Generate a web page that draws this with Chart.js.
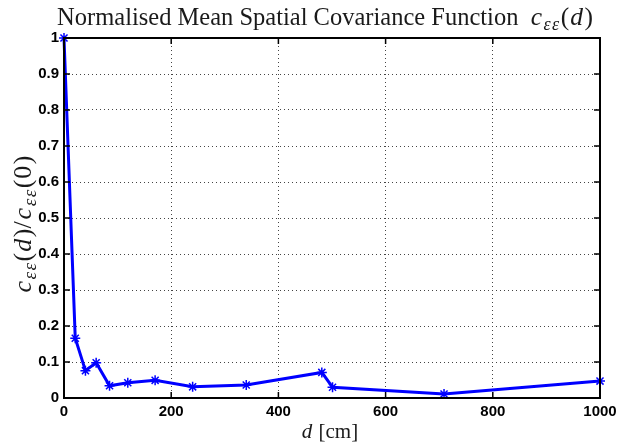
<!DOCTYPE html>
<html>
<head>
<meta charset="utf-8">
<script src="https://cdn.jsdelivr.net/npm/chart.js@4/dist/chart.umd.min.js"></script>
<style>
  html, body { margin: 0; padding: 0; background: #fff; }
  #wrap { width: 620px; height: 443px; position: relative; }
</style>
</head>
<body>
<div id="wrap"><canvas id="covChart"></canvas></div>
<script>
/* ── data ───────────────────────────────────────── */
var distances  = [0, 21, 40, 60, 85, 119, 170, 240, 340, 481, 501, 709, 1000];
var covariance = [1, 0.166, 0.076, 0.098, 0.034, 0.0425, 0.049, 0.031, 0.036, 0.071, 0.030, 0.011, 0.047];
var xTicks = [0, 200, 400, 600, 800, 1000];
var yTicks = [0, 0.1, 0.2, 0.3, 0.4, 0.5, 0.6, 0.7, 0.8, 0.9, 1];

var SERIF = "'Liberation Serif', 'DejaVu Serif', serif";
var TICK_FONT = { family: "'Liberation Sans', Arial, sans-serif", size: 15, weight: 'bold' };

// draw text pieces char by char (italic / subscript / extra gap) centred at x
function drawRich(ctx, segs, x, y) {
  var total = 0;
  segs.forEach(function (s) {
    ctx.font = s.font;
    s.w = 0;
    for (var i = 0; i < s.t.length; i++) s.w += ctx.measureText(s.t[i]).width + (s.gap || 0);
    if (s.whole) s.w = ctx.measureText(s.t).width;
    total += s.w;
  });
  var cx = x - total / 2;
  ctx.textAlign = 'left';
  ctx.textBaseline = 'alphabetic';
  segs.forEach(function (s) {
    ctx.font = s.font;
    if (s.whole) { ctx.fillText(s.t, cx, y); cx += s.w; return; }
    for (var i = 0; i < s.t.length; i++) {
      ctx.fillText(s.t[i], cx, y + (s.dy || 0));
      cx += ctx.measureText(s.t[i]).width + (s.gap || 0);
    }
  });
}

// c_{εε}(arg) in a TeX-like look
function covSegs(size, arg, argItalic) {
  var sub = Math.round(size * 0.72);
  return [
    { t: 'c', font: 'italic ' + size + 'px ' + SERIF, gap: 1.5 },
    { t: 'εε', font: 'italic ' + sub + 'px ' + SERIF, dy: size * 0.2, gap: 1.5 },
    { t: '(', font: size + 'px ' + SERIF, gap: 1 },
    { t: arg, font: (argItalic ? 'italic ' : '') + size + 'px ' + SERIF, gap: 1.5 },
    { t: ')', font: size + 'px ' + SERIF }
  ];
}

var framePlugin = {
  id: 'frame',
  afterDraw: function (chart) {
    var ctx = chart.ctx, a = chart.chartArea;
    var xs = chart.scales.x, ys = chart.scales.y;
    ctx.save();
    ctx.strokeStyle = '#000';
    ctx.lineWidth = 1.5;
    // inward ticks on all four sides
    ctx.beginPath();
    xTicks.forEach(function (v) {
      var px = xs.getPixelForValue(v);
      ctx.moveTo(px, a.bottom); ctx.lineTo(px, a.bottom - 6);
      ctx.moveTo(px, a.top); ctx.lineTo(px, a.top + 6);
    });
    yTicks.forEach(function (v) {
      var py = ys.getPixelForValue(v);
      ctx.moveTo(a.left, py); ctx.lineTo(a.left + 6, py);
      ctx.moveTo(a.right, py); ctx.lineTo(a.right - 6, py);
    });
    ctx.stroke();
    ctx.lineWidth = 2;
    ctx.strokeRect(a.left, a.top, a.right - a.left, a.bottom - a.top);

    ctx.fillStyle = '#1a1a1a';
    // title
    var title = [{ t: 'Normalised Mean Spatial Covariance Function  ', font: '24.5px ' + SERIF, whole: true }];
    drawRich(ctx, title.concat(covSegs(25.5, 'd', true)), 325, 25);
    // x title
    drawRich(ctx, [
      { t: 'd', font: 'italic 21px ' + SERIF, gap: 1 },
      { t: ' [cm]', font: '21px ' + SERIF, whole: true }
    ], 330, 438);
    // y title
    ctx.translate(31, 224);
    ctx.rotate(-Math.PI / 2);
    var ylab = covSegs(26, 'd', true)
      .concat([{ t: '/', font: '26px ' + SERIF, gap: 2 }])
      .concat(covSegs(26, '0', false));
    drawRich(ctx, ylab, 0, 0);
    ctx.restore();
  }
};

var points = distances.map(function (d, i) { return { x: d, y: covariance[i] }; });

new Chart(document.getElementById('covChart'), {
  type: 'line',
  data: {
    datasets: [{
      data: points,
      borderColor: '#0000ff',
      backgroundColor: '#0000ff',
      borderWidth: 3,
      pointStyle: 'star',
      pointRadius: 5,
      pointBorderWidth: 1.5,
      pointBorderColor: '#0000ff',
      tension: 0,
      clip: false
    }]
  },
  options: {
    responsive: true,
    maintainAspectRatio: false,
    animation: false,
    layout: { padding: { top: 38, right: 20, left: 0, bottom: 0 } },
    plugins: { legend: { display: false }, tooltip: { enabled: false } },
    scales: {
      x: {
        type: 'linear', min: 0, max: 1000,
        afterBuildTicks: function (s) { s.ticks = xTicks.map(function (v) { return { value: v }; }); },
        afterFit: function (s) { s.height = 45; s.paddingRight = 0; s.paddingLeft = 0; },
        grid: { color: '#444', drawTicks: false },
        border: { display: false, dash: [1, 3] },
        ticks: {
          color: '#000', padding: 5, maxRotation: 0, font: TICK_FONT,
          callback: function (v) { return String(v); }
        }
      },
      y: {
        type: 'linear', min: 0, max: 1,
        afterBuildTicks: function (s) { s.ticks = yTicks.map(function (v) { return { value: v }; }); },
        afterFit: function (s) { s.width = 64; },
        grid: { color: '#444', drawTicks: false },
        border: { display: false, dash: [1, 3] },
        ticks: {
          color: '#000', padding: 5, font: TICK_FONT,
          callback: function (v) { return String(Number(v.toFixed(1))); }
        }
      }
    }
  },
  plugins: [framePlugin]
});
</script>
</body>
</html>
